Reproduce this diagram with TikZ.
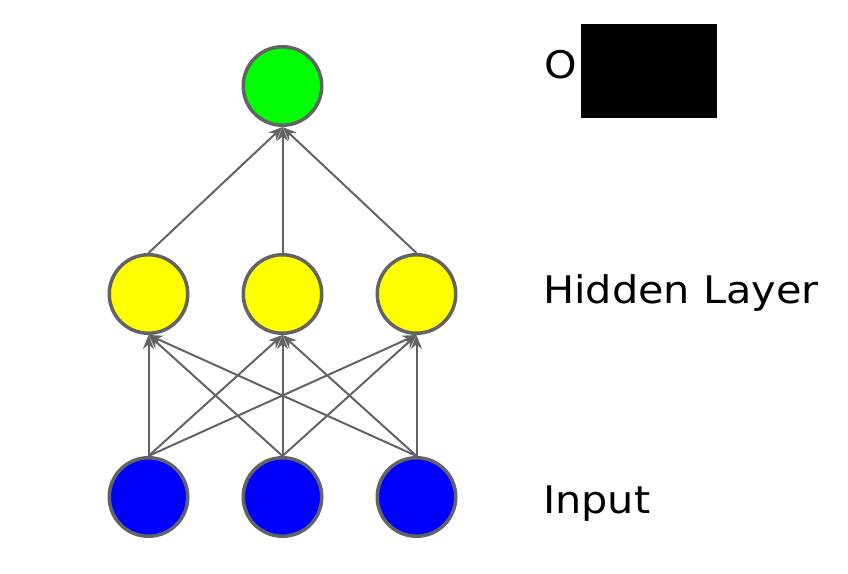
\documentclass[tikz,border=0pt]{standalone}
\usepackage{fontspec}
\newfontfamily\labelfont[FakeStretch=1.09]{DejaVu Sans}
\usetikzlibrary{arrows.meta,positioning}
\definecolor{edgegray}{HTML}{626366}
\definecolor{outfill}{RGB}{0,255,0}
\definecolor{hidfill}{RGB}{255,255,0}
\definecolor{infill}{RGB}{0,0,255}
\tikzset{
	neuron/.style={circle,draw=edgegray,line width=3.5bp,minimum size=78.5bp,inner sep=0pt},
	link/.style={draw=edgegray,line width=2bp,-{Stealth[length=14bp,width=11bp]}},
	layername/.style={anchor=base west,inner sep=0pt,font=\labelfont\fontsize{38bp}{44bp}\selectfont}
}
\begin{document}
\begin{tikzpicture}[x=1bp,y=-1bp]
	\useasboundingbox (0,0) rectangle (848,574);
	% neurons
	\node[neuron,fill=outfill] (out) at (282.5,86) {};
	\foreach \i/\x in {1/148.5,2/282.5,3/416.5} {
		\node[neuron,fill=hidfill] (hid\i) at (\x,294) {};
		\node[neuron,fill=infill] (in\i) at (\x,497) {};
	}
	% connections
	\foreach \i in {1,2,3} {
		\foreach \j in {1,2,3} \draw[link] (in\i.north) -- (hid\j.south);
		\draw[link] (hid\i.north) -- (out.south);
	}
	% layer names
	\node[layername] (outname) at (544,79) {O};
	\fill (580.7,24) rectangle (716.7,118.3);
	\node[layername] (hidname) at (543,303) {Hidden Layer};
	\node[layername] (inname) at (543,513.3) {Input};
\end{tikzpicture}
\end{document}
